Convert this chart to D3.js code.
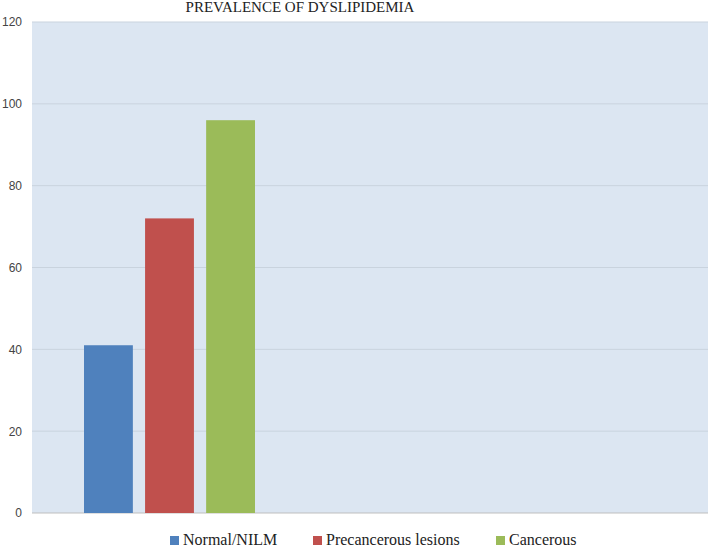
<!DOCTYPE html>
<html><head><meta charset="utf-8">
<script src="https://cdn.jsdelivr.net/npm/d3@7"></script>
<style>body{margin:0;background:#fff}</style></head>
<body><svg id="c" width="708" height="550"></svg>
<script>
const categories = ["Normal/NILM", "Precancerous lesions", "Cancerous"];
const values = [41, 72, 96];
const colors = ["#4f81bd", "#c0504d", "#9bbb59"];
const yTicks = [0, 20, 40, 60, 80, 100, 120];

const svg = d3.select("#c");
const L = 32, R = 708, T = 22, B = 513;
svg.append("rect").attr("x", L).attr("y", T).attr("width", R - L).attr("height", B - T).attr("fill", "#dce6f2");
const y = d3.scaleLinear().domain([0, 120]).range([B, T]);
const x = d3.scaleBand().domain(categories).range([84, 255]).paddingInner(0.2).paddingOuter(0);

svg.selectAll("line.g").data(yTicks.slice(1)).enter().append("line")
  .attr("x1", L).attr("x2", R).attr("y1", d => y(d)).attr("y2", d => y(d))
  .attr("stroke", "#c9d3de").attr("stroke-width", 1);
svg.append("line").attr("x1", L).attr("x2", R).attr("y1", B).attr("y2", B).attr("stroke", "#bfbfbf");

const ax = svg.append("g").attr("transform", `translate(${L},0)`)
  .call(d3.axisLeft(y).tickValues(yTicks).tickSize(0).tickPadding(10));
ax.select(".domain").remove();
ax.selectAll("text").attr("font-family", "Liberation Sans, Arial").attr("font-size", 12).attr("fill", "#444");

svg.selectAll("rect.b").data(values).enter().append("rect")
  .attr("x", (d, i) => x(categories[i])).attr("width", x.bandwidth())
  .attr("y", d => y(d)).attr("height", d => B - y(d))
  .attr("fill", (d, i) => colors[i]);

svg.append("text").attr("x", 300).attr("y", 12).attr("text-anchor", "middle")
  .style("font-family", "'Liberation Serif', serif").attr("font-size", 15).attr("fill", "#222")
  .text("PREVALENCE OF DYSLIPIDEMIA");

const lx = [170, 313, 496];
const lg = svg.selectAll("g.l").data(categories).enter().append("g")
  .attr("transform", (d, i) => `translate(${lx[i]},536)`);
lg.append("rect").attr("width", 9).attr("height", 9).attr("y", 0).attr("fill", (d, i) => colors[i]);
lg.append("text").attr("x", 13).attr("y", 9).style("font-family", "'Liberation Serif', serif")
  .attr("font-size", 16).attr("fill", "#222").text(d => d);
</script></body></html>
